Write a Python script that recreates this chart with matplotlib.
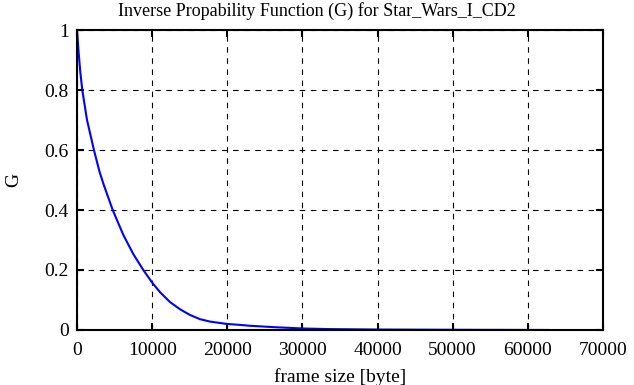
import matplotlib
matplotlib.use("Agg")
import matplotlib.pyplot as plt

# values
frame_size = [0, 220, 440, 700, 1330, 2250, 2970, 3500, 4750, 6160, 7490,
              8820, 10000, 11050, 12380, 13710, 15040, 16370, 17700, 20000,
              21690, 23000, 26550, 30000, 33600, 40000, 50000, 62700]
G = [1.0, 0.923, 0.859, 0.80, 0.70, 0.60, 0.53, 0.488, 0.4, 0.317, 0.253,
     0.2, 0.158, 0.126, 0.093, 0.069, 0.05, 0.036, 0.028, 0.02,
     0.017, 0.014, 0.009, 0.005, 0.003, 0.0015, 0.0007, 0.0]

xticks = [0, 10000, 20000, 30000, 40000, 50000, 60000, 70000]
yticks = [0, 0.2, 0.4, 0.6, 0.8, 1]
ytick_labels = ["0", "0.2", "0.4", "0.6", "0.8", "1"]

plt.rcParams['font.family'] = ['Liberation Serif', 'DejaVu Serif']
plt.rcParams['font.size'] = 14

fig = plt.figure(figsize=(6.34, 3.85), dpi=100)
ax = fig.add_axes([0.1215, 0.1429, 0.8295, 0.7791])
ax.plot(frame_size, G, color='blue', linewidth=1.5)
ax.set_xlim(0, 70000)
ax.set_ylim(0, 1)
ax.set_xticks(xticks)
ax.set_xticklabels([str(t) for t in xticks])
ax.set_yticks(yticks)
ax.set_yticklabels(ytick_labels)
ax.tick_params(direction='in', top=True, right=True, length=5, width=1.5, pad=6)
ax.tick_params(axis='x', pad=9)
ax.grid(True, color='black', linestyle=(0, (5, 5)), linewidth=0.8)
for s in ax.spines.values():
    s.set_linewidth(1.5)
fig.text(0.5, 0.972, 'Inverse Propability Function (G) for Star_Wars_I_CD2',
         fontsize=13, ha='center', va='center')
ax.set_xlabel('frame size [byte]', labelpad=6)
ax.set_ylabel('G', labelpad=16)
fig.savefig('out.png', dpi=100)
